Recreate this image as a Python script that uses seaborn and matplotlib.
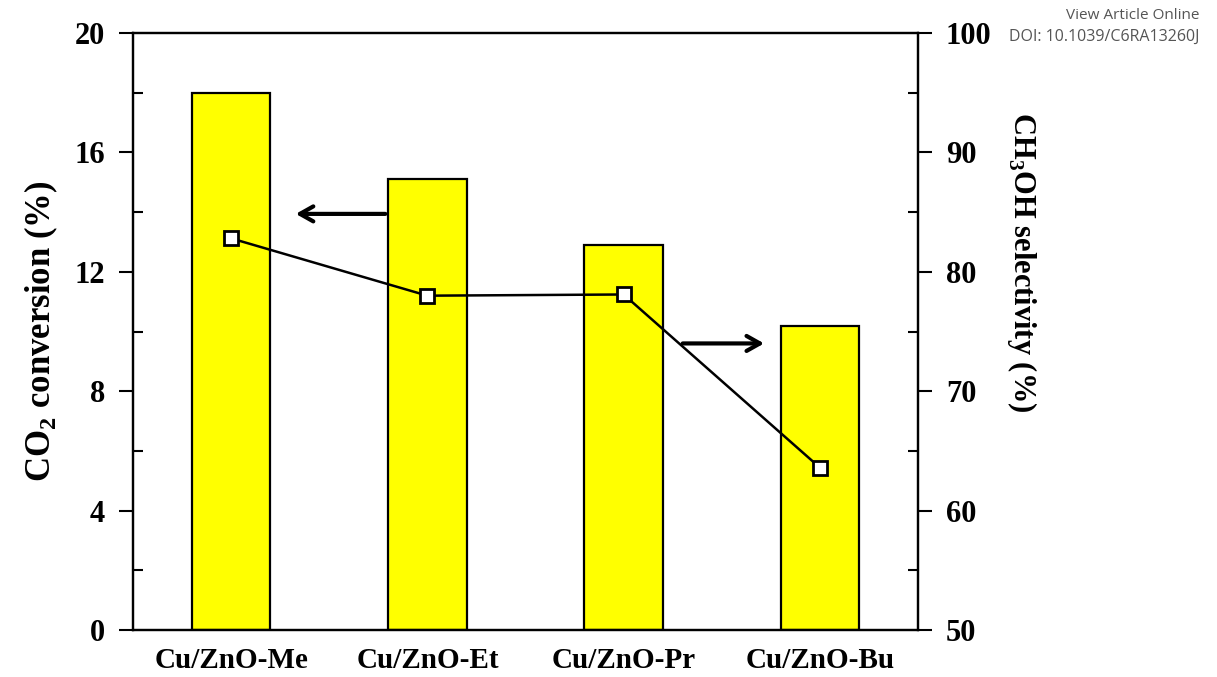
import matplotlib
matplotlib.use("Agg")
import matplotlib.pyplot as plt
import seaborn as sns
import pandas as pd
from matplotlib.ticker import MultipleLocator

categories = ["Cu/ZnO-Me", "Cu/ZnO-Et", "Cu/ZnO-Pr", "Cu/ZnO-Bu"]
co2_conversion = [18.0, 15.1, 12.9, 10.2]
ch3oh_selectivity = [82.8, 78.0, 78.1, 63.6]
left_ticks = [0, 4, 8, 12, 16, 20]
right_ticks = [50, 60, 70, 80, 90, 100]

sns.set_theme(style="white")
plt.rcParams["font.family"] = ["Liberation Serif", "DejaVu Serif"]
plt.rcParams["font.weight"] = "bold"
plt.rcParams["mathtext.fontset"] = "custom"
plt.rcParams["mathtext.rm"] = "Liberation Serif:bold"
plt.rcParams["mathtext.bf"] = "Liberation Serif:bold"
for k in ["text.color", "axes.labelcolor", "xtick.color", "ytick.color"]:
    plt.rcParams[k] = "black"

df = pd.DataFrame({"cat": categories, "conv": co2_conversion, "sel": ch3oh_selectivity})

fig = plt.figure(figsize=(12.17, 6.77), dpi=100)
ax = fig.add_axes([133/1217, 1-630/677, (918-133)/1217, (630-33)/677])

sns.barplot(data=df, x="cat", y="conv", ax=ax, color="#FFFF00", saturation=1,
            width=0.4, edgecolor="black", linewidth=1.6)
ax.set_xlim(-0.5, 3.5)
ax.set_ylim(0, 20)
ax.set_yticks(left_ticks)
ax.yaxis.set_minor_locator(MultipleLocator(2))
ax.tick_params(axis="y", which="major", direction="out", length=10, width=1.5,
               labelsize=22, pad=10)
ax.tick_params(axis="y", which="minor", direction="in", length=7, width=1.5, left=True)
ax.tick_params(axis="x", which="both", length=0, labelsize=21, pad=12)
for lab in ax.get_xticklabels() + ax.get_yticklabels():
    lab.set_fontweight("bold")
ax.set_xlabel("")
ax.set_ylabel("CO$_\\mathbf{2}$ conversion (%)", fontsize=25, fontweight="bold")
ax.yaxis.set_label_coords(-0.093, 0.5)
for s in ax.spines.values():
    s.set_linewidth(1.6)
    s.set_color("black")

ax2 = ax.twinx()
sns.lineplot(data=df, x="cat", y="sel", ax=ax2, color="black", linewidth=1.8,
             marker="s", markersize=10, markerfacecolor="white",
             markeredgecolor="black", markeredgewidth=2)
ax2.set_ylim(50, 100)
ax2.set_yticks(right_ticks)
ax2.yaxis.set_minor_locator(MultipleLocator(5))
ax2.tick_params(axis="y", which="major", direction="out", length=10, width=1.5,
                labelsize=22, pad=10)
ax2.tick_params(axis="y", which="minor", direction="in", length=7, width=1.5, right=True)
for lab in ax2.get_yticklabels():
    lab.set_fontweight("bold")
ax2.set_xlabel("")
ax2.set_ylabel("CH$_\\mathbf{3}$OH selectivity (%)", fontsize=22, fontweight="bold",
               rotation=270, va="center")
ax2.yaxis.set_label_coords(1.132, 0.616)
for s in ax2.spines.values():
    s.set_linewidth(1.6)
    s.set_color("black")

# arrows indicating axes
ax.annotate("", xy=(0.315, 13.94), xytext=(0.80, 13.94),
            arrowprops=dict(arrowstyle="->,head_length=0.8,head_width=0.45", lw=3, color="black"))
ax2.annotate("", xy=(2.73, 74.0), xytext=(2.287, 74.0),
             arrowprops=dict(arrowstyle="->,head_length=0.8,head_width=0.45", lw=3, color="black"))

fig.text(0.986, 0.988, "View Article Online", ha="right", va="top", fontsize=11,
         color="#555555", family="Open Sans", fontweight="normal")
fig.text(0.986, 0.958, "DOI: 10.1039/C6RA13260J", ha="right", va="top", fontsize=11.5,
         color="#555555", family="Open Sans", fontweight="normal")

fig.savefig("out.png", dpi=100)
